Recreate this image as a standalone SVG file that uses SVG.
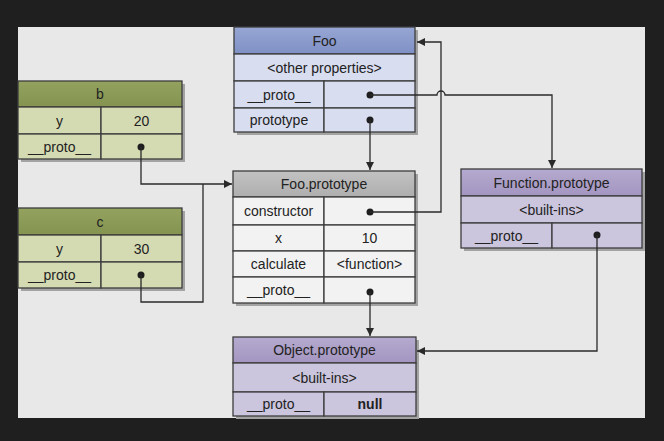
<svg xmlns="http://www.w3.org/2000/svg" width="664" height="441" viewBox="0 0 664 441">
<defs>
<linearGradient id="gBlue" x1="0" y1="0" x2="0" y2="1"><stop offset="0" stop-color="#97a6d3"/><stop offset="1" stop-color="#7f90c5"/></linearGradient>
<linearGradient id="gGreen" x1="0" y1="0" x2="0" y2="1"><stop offset="0" stop-color="#93a25e"/><stop offset="1" stop-color="#84934f"/></linearGradient>
<linearGradient id="gGray" x1="0" y1="0" x2="0" y2="1"><stop offset="0" stop-color="#c2c2c2"/><stop offset="1" stop-color="#aeaeae"/></linearGradient>
<linearGradient id="gPurple" x1="0" y1="0" x2="0" y2="1"><stop offset="0" stop-color="#b5aacf"/><stop offset="1" stop-color="#a395c0"/></linearGradient>
<marker id="arr" markerUnits="userSpaceOnUse" markerWidth="10" markerHeight="10" refX="8" refY="4" orient="auto"><path d="M0,0 L8,4 L0,8 z" fill="#2a2a2a"/></marker>
</defs>
<style>
.bx{stroke:#3c3c3c;stroke-width:1.3}
.sh{fill:#a3a3a3}
.blue{fill:#d8ddef}.green{fill:#d4dbb2}.gray{fill:#f2f2f2}.purple{fill:#cbc5dd}
text{font-family:"Liberation Sans",Arial,sans-serif;font-size:14px;fill:#222;text-anchor:middle;dominant-baseline:central}
.dot{fill:#1e1e1e}
.cn{fill:none;stroke:#2a2a2a;stroke-width:1.3}
</style>
<rect width="664" height="441" fill="#1f1f1f"/>
<rect x="18" y="27" width="627" height="391" fill="#e8e8e8"/>

<g id="foo">
<rect class="sh" x="237" y="30" width="181" height="105"/>
<rect class="bx" x="234" y="27" width="181" height="27" fill="url(#gBlue)"/>
<rect class="bx blue" x="234" y="54" width="181" height="27"/>
<rect class="bx blue" x="234" y="81" width="90" height="27"/>
<rect class="bx blue" x="324" y="81" width="91" height="27"/>
<rect class="bx blue" x="234" y="108" width="90" height="24"/>
<rect class="bx blue" x="324" y="108" width="91" height="24"/>
<text x="324.5" y="41">Foo</text>
<text x="324.5" y="68">&lt;other properties&gt;</text>
<text x="279" y="95">__proto__</text>
<text x="279" y="120">prototype</text>
<circle class="dot" cx="370" cy="95" r="3.5"/>
<circle class="dot" cx="370" cy="120" r="3.5"/>
</g>

<g id="b">
<rect class="sh" x="21" y="84" width="164" height="78"/>
<rect class="bx" x="18" y="81" width="164" height="26" fill="url(#gGreen)"/>
<rect class="bx green" x="18" y="107" width="83" height="27"/>
<rect class="bx green" x="101" y="107" width="81" height="27"/>
<rect class="bx green" x="18" y="134" width="83" height="25"/>
<rect class="bx green" x="101" y="134" width="81" height="25"/>
<text x="100" y="94">b</text>
<text x="59.5" y="120.5">y</text>
<text x="141.5" y="120.5">20</text>
<text x="59.5" y="146.5">__proto__</text>
<circle class="dot" cx="141" cy="147" r="3.5"/>
</g>

<g id="c">
<rect class="sh" x="21" y="211" width="164" height="80"/>
<rect class="bx" x="18" y="208" width="164" height="27" fill="url(#gGreen)"/>
<rect class="bx green" x="18" y="235" width="83" height="27"/>
<rect class="bx green" x="101" y="235" width="81" height="27"/>
<rect class="bx green" x="18" y="262" width="83" height="26"/>
<rect class="bx green" x="101" y="262" width="81" height="26"/>
<text x="100" y="221.5">c</text>
<text x="59.5" y="248.5">y</text>
<text x="141.5" y="248.5">30</text>
<text x="59.5" y="275">__proto__</text>
<circle class="dot" cx="141" cy="275" r="3.5"/>
</g>

<g id="fooproto">
<rect class="sh" x="236" y="174" width="182" height="132"/>
<rect class="bx" x="233" y="171" width="182" height="26" fill="url(#gGray)"/>
<rect class="bx gray" x="233" y="197" width="91" height="28"/>
<rect class="bx gray" x="324" y="197" width="91" height="28"/>
<rect class="bx gray" x="233" y="225" width="91" height="26"/>
<rect class="bx gray" x="324" y="225" width="91" height="26"/>
<rect class="bx gray" x="233" y="251" width="91" height="26"/>
<rect class="bx gray" x="324" y="251" width="91" height="26"/>
<rect class="bx gray" x="233" y="277" width="91" height="26"/>
<rect class="bx gray" x="324" y="277" width="91" height="26"/>
<text x="324" y="184">Foo.prototype</text>
<text x="278.5" y="211">constructor</text>
<text x="278.5" y="238">x</text>
<text x="369.5" y="238">10</text>
<text x="278.5" y="264">calculate</text>
<text x="369.5" y="264">&lt;function&gt;</text>
<text x="278.5" y="290">__proto__</text>
<circle class="dot" cx="370" cy="212" r="3.5"/>
<circle class="dot" cx="370" cy="292" r="3.5"/>
</g>

<g id="funcproto">
<rect class="sh" x="464" y="172" width="181" height="79"/>
<rect class="bx" x="461" y="169" width="181" height="27" fill="url(#gPurple)"/>
<rect class="bx purple" x="461" y="196" width="181" height="27"/>
<rect class="bx purple" x="461" y="223" width="91" height="25"/>
<rect class="bx purple" x="552" y="223" width="90" height="25"/>
<text x="551.5" y="182.5">Function.prototype</text>
<text x="551.5" y="209.5">&lt;built-ins&gt;</text>
<text x="506.5" y="235.5">__proto__</text>
<circle class="dot" cx="597" cy="235" r="3.5"/>
</g>

<g id="objproto">
<rect class="sh" x="236" y="340" width="183" height="79"/>
<rect class="bx" x="233" y="337" width="183" height="26" fill="url(#gPurple)"/>
<rect class="bx purple" x="233" y="363" width="183" height="29"/>
<rect class="bx purple" x="233" y="392" width="91" height="24"/>
<rect class="bx purple" x="324" y="392" width="92" height="24"/>
<text x="324.5" y="350">Object.prototype</text>
<text x="324.5" y="377.5">&lt;built-ins&gt;</text>
<text x="278.5" y="404">__proto__</text>
<text x="370" y="404" font-weight="bold">null</text>
</g>

<g id="connectors">
<path class="cn" d="M370,95 H437 a4,4 0 0 1 8,0 H552 V168" marker-end="url(#arr)"/>
<path class="cn" d="M370,120 V170" marker-end="url(#arr)"/>
<path class="cn" d="M370,212 H441 V42 H417" marker-end="url(#arr)"/>
<path class="cn" d="M141,147 V184 H232" marker-end="url(#arr)"/>
<path class="cn" d="M141,275 V302 H203 V184"/>
<path class="cn" d="M370,292 V336" marker-end="url(#arr)"/>
<path class="cn" d="M597,235 V351 H417" marker-end="url(#arr)"/>
</g>
</svg>
